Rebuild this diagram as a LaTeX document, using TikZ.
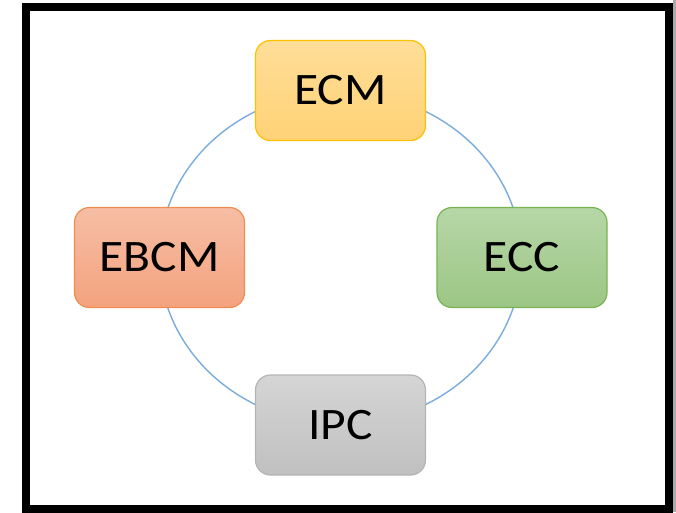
\documentclass[tikz,border=0pt]{standalone}
\usepackage{fontspec}
\setmainfont{Carlito}[FakeStretch=1.1]
\usetikzlibrary{positioning}
\definecolor{ringblue}{RGB}{122,172,222}
\definecolor{edgegray}{RGB}{170,170,170}
\tikzstyle{module} = [draw,line width=1.2pt,rounded corners=15pt,minimum width=170pt,minimum height=100pt,font=\fontsize{45}{52}\selectfont]
\tikzstyle{ring} = [draw=ringblue,line width=1.4pt]

\begin{document}
\begin{tikzpicture}[x=1pt,y=-1pt,node distance=2cm,on grid]
   \useasboundingbox (0,0) rectangle (676,512);
   \fill[edgegray] (672.5,0) rectangle (676,512);
   \draw[line width=8pt] (26,7) rectangle (668.5,508.5);

   \coordinate (centre) at (340.5,258);
   \path[ring] (centre) ellipse [x radius=181pt,y radius=166pt];

   \node[module,draw={rgb,255:red,255;green,192;blue,0},top color={rgb,255:red,255;green,222;blue,152},bottom color={rgb,255:red,255;green,210;blue,118}] (ecm) at (340.5,90.5) {ECM};
   \node[module,draw={rgb,255:red,240;green,140;blue,80},top color={rgb,255:red,246;green,190;blue,165},bottom color={rgb,255:red,244;green,162;blue,126}] (ebcm) [below left=167pt and 181pt of ecm] {EBCM};
   \node[module,draw={rgb,255:red,120;green,180;blue,80},top color={rgb,255:red,182;green,215;blue,167},bottom color={rgb,255:red,156;green,198;blue,133}] (ecc) [below right=167pt and 181.5pt of ecm] {ECC};
   \node[module,draw={rgb,255:red,180;green,180;blue,180},top color={rgb,255:red,213;green,213;blue,213},bottom color={rgb,255:red,192;green,192;blue,192}] (ipc) [below=334.5pt of ecm] {IPC};

\end{tikzpicture}
\end{document}
